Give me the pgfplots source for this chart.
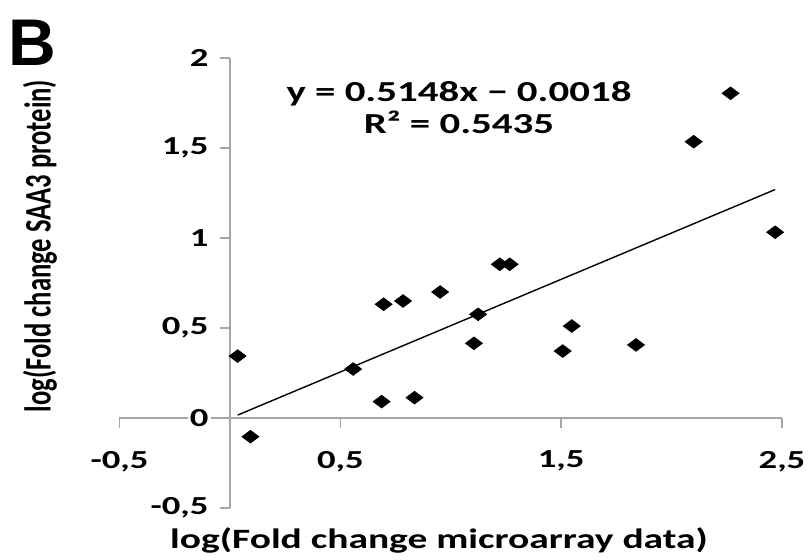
\documentclass[border=0pt]{standalone}
\usepackage{fontspec}
\usepackage{graphicx}
\setmainfont{Carlito}
\newfontfamily\widefont[FakeStretch=1.41]{Carlito}
\newfontfamily\panelfont{Liberation Sans}
\usepackage{pgfplots}
\pgfplotsset{compat=1.18}

\begin{document}
\begin{tikzpicture}
\useasboundingbox (-59.75pt,-25.5pt) rectangle (344.75pt,254pt);
\begin{axis}[
    scale only axis,
    width=331.25pt, height=225pt,
    xmin=-0.5, xmax=2.5,
    ymin=-0.5, ymax=2,
    axis lines=middle,
    axis line style={-, draw=gray!70, line width=0.8pt},
    xtick={-0.5,0.5,1.5,2.5},
    ytick={-0.5,0,0.5,1,1.5,2},
    hide obscured x ticks=false,
    hide obscured y ticks=false,
    tick align=outside,
    major tick length=5pt,
    tick style={draw=gray!70, line width=0.8pt},
    ticklabel style={font=\widefont\fontsize{13}{15}\selectfont\bfseries},
    /pgf/number format/use comma,
    /pgf/number format/assume math mode=true,
    xticklabel style={yshift=-8pt},
    yticklabel style={xshift=-4.5pt, fill=white, inner sep=1pt},
    clip=false,
]
% measured points
\addplot[only marks, mark=diamond*, mark size=4.2pt,
    mark options={rotate=90, fill=black, draw=black}]
    coordinates {
    (0.035,0.344) (0.093,-0.104) (0.558,0.272) (0.687,0.091)
    (0.836,0.113) (0.696,0.632) (0.784,0.650) (0.952,0.700)
    (1.124,0.576) (1.105,0.415) (1.222,0.854) (1.267,0.854)
    (1.507,0.372) (1.548,0.511) (1.839,0.406) (2.100,1.535)
    (2.267,1.804) (2.469,1.032)
    };
% linear trendline
\addplot[black, line width=0.7pt] coordinates {(0.035,0.0162) (2.469,1.2692)};
\end{axis}

\node[font=\panelfont\fontsize{33}{36}\selectfont\bfseries] at (-43.75pt,232.5pt) {B};
\node[font=\fontsize{13.3}{15}\selectfont\bfseries] at (-39.75pt,131pt)
    {\rotatebox{90}{\scalebox{1}[1.41]{log(Fold change SAA3 protein)}}};
\node[font=\widefont\fontsize{14}{16}\selectfont\bfseries] at (159.75pt,-16pt)
    {log(Fold change microarray data)};
\node[font=\widefont\fontsize{14.5}{16}\selectfont\bfseries, align=center] at (169.75pt,200pt)
    {y = 0.5148x − 0.0018\\[0pt] R² = 0.5435};
\end{tikzpicture}
\end{document}
